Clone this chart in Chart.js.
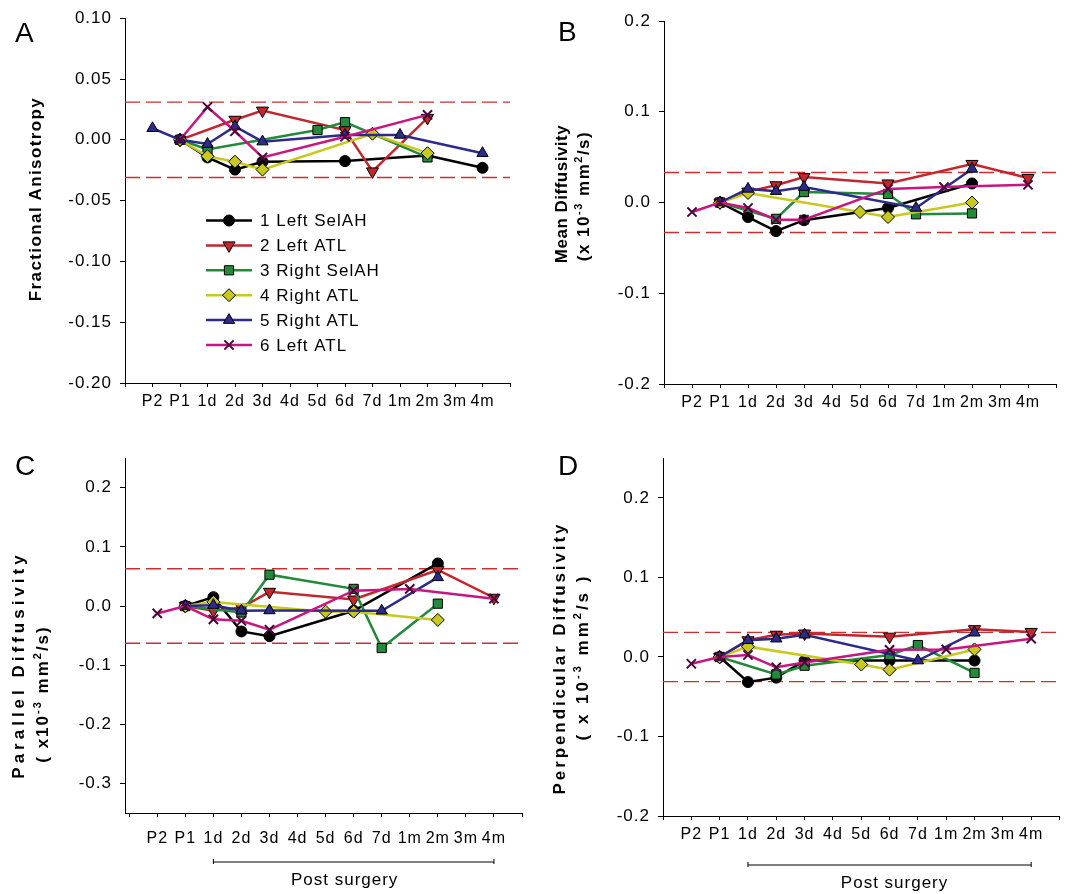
<!DOCTYPE html>
<html lang="en">
<head>
<meta charset="utf-8">
<title>DTI post surgery</title>
<script src="https://cdn.jsdelivr.net/npm/chart.js@4.4.1/dist/chart.umd.min.js"></script>
<style>
  html, body { margin: 0; padding: 0; background: #fff; overflow: hidden; }
  body { position: relative; width: 1065px; height: 894px; font-family: 'Liberation Sans', Arial, sans-serif; color: #000; }
  canvas { position: absolute; }
  .letra { position: absolute; font-size: 28px; line-height: 28px; }
  .titulo { position: absolute; font-weight: bold; font-size: 17px; line-height: 20px; white-space: nowrap; transform: translate(-50%, -50%) rotate(-90deg); }
  .titulo sup { font-size: 11px; line-height: 0; vertical-align: 7px; }
</style>
</head>
<body>
<canvas id="chartA" width="540" height="440" style="left:0;top:0"></canvas>
<canvas id="chartB" width="525" height="440" style="left:540px;top:0"></canvas>
<canvas id="chartC" width="540" height="454" style="left:0;top:440px"></canvas>
<canvas id="chartD" width="528" height="454" style="left:540px;top:440px"></canvas>

<div class="letra" style="left:15px;top:19px">A</div>
<div class="letra" style="left:558px;top:18px">B</div>
<div class="letra" style="left:15px;top:452px">C</div>
<div class="letra" style="left:558px;top:452px">D</div>

<div class="titulo" style="left:36px;top:199px;letter-spacing:1.4px">Fractional Anisotropy</div>
<div class="titulo" style="left:562px;top:194px;letter-spacing:0.5px">Mean Diffusivity</div>
<div class="titulo" style="left:584px;top:196px;letter-spacing:1.5px">(x 10<sup>-3</sup> mm<sup>2</sup>/s)</div>
<div class="titulo" style="left:19px;top:665px;letter-spacing:4px">Parallel Diffusivity</div>
<div class="titulo" style="left:43px;top:694px;letter-spacing:2px">( x10<sup>-3</sup> mm<sup>2</sup>/s)</div>
<div class="titulo" style="left:560px;top:658px;letter-spacing:2.9px">Perpendicular Diffusivity</div>
<div class="titulo" style="left:583px;top:657px;letter-spacing:3px">( x 10<sup>-3</sup> mm<sup>2</sup>/s )</div>

<script>
// Configuración global para que coincida con la figura original
Chart.defaults.font.family = "'Liberation Sans', Arial, sans-serif";
Chart.defaults.color = '#000';

// 1. Datos: categorías del eje X y nombres de las series
const categorias = ['P2', 'P1', '1d', '2d', '3d', '4d', '5d', '6d', '7d', '1m', '2m', '3m', '4m'];
const nombresSeries = ['1 Left SelAH', '2 Left ATL', '3 Right SelAH', '4 Right ATL', '5 Right ATL', '6 Left ATL'];

// A - Fractional Anisotropy
const fa1 = [null, 0, -0.0145, -0.0245, -0.018, null, null, -0.0175, null, null, -0.013, null, -0.023];
const fa2 = [null, 0, null, 0.0165, 0.024, null, null, 0.008, -0.026, null, 0.018, null, null];
const fa3 = [null, 0, -0.008, null, null, null, 0.008, 0.0145, null, null, -0.0145, null, null];
const fa4 = [null, 0, -0.0135, -0.018, -0.0245, null, null, null, 0.005, null, -0.011, null, null];
const fa5 = [0.0095, 0, -0.0035, 0.011, -0.0015, null, null, 0.004, null, 0.004, null, null, -0.011];
const fa6 = [null, 0, 0.027, 0.007, -0.0145, null, null, 0.0025, null, null, 0.0205, null, null];

// B - Mean Diffusivity
const md1 = [null, 0, -0.016, -0.0315, -0.0195, null, null, -0.006, null, null, 0.021, null, null];
const md2 = [null, 0, 0.012, 0.019, 0.028, null, null, 0.021, null, null, 0.0425, null, 0.027];
const md3 = [null, 0, null, -0.018, 0.0115, null, null, 0.0095, -0.013, null, -0.012, null, null];
const md4 = [null, 0, 0.0105, null, null, null, -0.0105, -0.016, null, null, 0.0, null, null];
const md5 = [null, 0, 0.015, 0.0125, 0.017, null, null, null, -0.006, null, 0.037, null, null];
const md6 = [-0.0105, 0, -0.006, -0.019, -0.019, null, null, 0.015, null, 0.017, null, null, 0.0195];

// C - Parallel Diffusivity
const ad1 = [null, 0, 0.015, -0.043, -0.051, null, null, -0.008, null, null, 0.072, null, null];
const ad2 = [null, 0, -0.008, -0.0025, 0.024, null, null, 0.011, null, null, 0.061, null, 0.014];
const ad3 = [null, 0, null, -0.011, 0.053, null, null, 0.029, -0.071, null, 0.004, null, null];
const ad4 = [null, 0, 0.007, null, null, null, -0.0095, -0.0095, null, null, -0.0235, null, null];
const ad5 = [null, 0, 0.0015, -0.008, -0.0075, null, null, null, -0.008, null, 0.0485, null, null];
const ad6 = [-0.0125, 0, -0.0225, -0.025, -0.040, null, null, 0.026, null, 0.029, null, null, 0.0125];

// D - Perpendicular Diffusivity
const rd1 = [null, 0, -0.0315, -0.026, -0.0045, null, null, -0.0045, null, null, -0.0045, null, null];
const rd2 = [null, 0, 0.021, 0.028, 0.0295, null, null, 0.0255, null, null, 0.035, null, 0.0315];
const rd3 = [null, 0, null, -0.022, -0.011, null, null, 0.0025, 0.015, null, -0.020, null, null];
const rd4 = [null, 0, 0.013, null, null, null, -0.0095, -0.016, null, null, 0.0095, null, null];
const rd5 = [null, 0, 0.021, 0.023, 0.028, null, null, null, -0.0045, null, 0.0305, null, null];
const rd6 = [-0.0085, 0, 0.0025, -0.013, -0.007, null, null, 0.009, null, 0.0095, null, null, 0.023];

// Límites (líneas discontinuas) y marcas de los ejes Y
const limiteFA = 0.031, limiteMD = 0.033, limiteAD = 0.063, limiteRD = 0.031;
const ticksFA = [-0.20, -0.15, -0.10, -0.05, 0.00, 0.05, 0.10];
const ticksMD = [-0.2, -0.1, 0.0, 0.1, 0.2];
const ticksAD = [-0.3, -0.2, -0.1, 0.0, 0.1, 0.2];
const ticksRD = [-0.2, -0.1, 0.0, 0.1, 0.2];

// 2. Estilos de cada serie
const coloresSeries = ['#000000', '#c1272d', '#23893b', '#c9c81f', '#2c2a8a', '#c8157f'];
const estilosPunto = ['circle', 'triangle', 'rect', 'rectRot', 'triangle', 'crossRot'];
const rotacionPunto = [0, 180, 0, 0, 0, 0];
const radioPunto = [5.5, 7, 6.5, 6.5, 6.5, 6.5];
const bordePunto = ['#000', '#000', '#000', '#000', '#000', '#4a0636'];
const fuente = "'Liberation Sans', Arial, sans-serif";

// Espaciado entre letras, como en la figura escaneada
const espaciado = {
    id: 'espaciado',
    beforeDraw(chart) { chart.ctx.letterSpacing = '1px'; }
};

// Leyenda dentro del área del gráfico (panel A)
const leyendaInterna = {
    id: 'leyendaInterna',
    afterDraw(chart, args, opts) {
        if (!opts.display) return;
        const ctx = chart.ctx;
        ctx.save();
        ctx.letterSpacing = '1px';
        ctx.font = '17px ' + fuente;
        ctx.textBaseline = 'middle';
        chart.data.datasets.filter(ds => !ds.esLimite).forEach((ds, i) => {
            const y = opts.top + i * opts.paso;
            ctx.strokeStyle = ds.borderColor;
            ctx.lineWidth = ds.borderWidth;
            ctx.beginPath();
            ctx.moveTo(opts.left, y);
            ctx.lineTo(opts.left + opts.largo, y);
            ctx.stroke();
            ctx.fillStyle = ds.pointBackgroundColor;
            ctx.strokeStyle = ds.pointBorderColor;
            ctx.lineWidth = ds.pointBorderWidth;
            Chart.helpers.drawPoint(ctx, {
                pointStyle: ds.pointStyle,
                rotation: ds.pointRotation,
                radius: ds.pointRadius,
                borderWidth: ds.pointBorderWidth
            }, opts.left + opts.largo / 2, y);
            ctx.fillStyle = '#000';
            ctx.fillText(ds.label, opts.left + opts.largo + 8, y + 1);
        });
        ctx.restore();
    }
};

// Corchete "Post surgery" bajo el eje X (paneles C y D)
const corchete = {
    id: 'corchete',
    afterDraw(chart, args, opts) {
        if (!opts.display) return;
        const ctx = chart.ctx;
        const x1 = chart.scales.x.getPixelForValue(opts.desde);
        const x2 = chart.scales.x.getPixelForValue(opts.hasta);
        ctx.save();
        ctx.strokeStyle = '#000';
        ctx.lineWidth = 1;
        ctx.beginPath();
        ctx.moveTo(x1, opts.y - 3); ctx.lineTo(x1, opts.y + 2);
        ctx.moveTo(x1, opts.y); ctx.lineTo(x2, opts.y);
        ctx.moveTo(x2, opts.y - 3); ctx.lineTo(x2, opts.y + 2);
        ctx.stroke();
        ctx.letterSpacing = '1px';
        ctx.font = '17px ' + fuente;
        ctx.fillStyle = '#000';
        ctx.textAlign = 'center';
        ctx.textBaseline = 'middle';
        ctx.fillText(opts.texto, (x1 + x2) / 2 + opts.desplazamiento, opts.y + 18);
        ctx.restore();
    }
};

function datasetsSeries(series) {
    return series.map((valores, k) => ({
        label: nombresSeries[k],
        data: valores.map((v, i) => (v === null ? null : { x: i + 1, y: v })).filter(p => p !== null),
        borderColor: coloresSeries[k],
        backgroundColor: coloresSeries[k],
        borderWidth: 2.5,
        pointStyle: estilosPunto[k],
        pointRotation: rotacionPunto[k],
        pointRadius: radioPunto[k],
        pointBackgroundColor: coloresSeries[k],
        pointBorderColor: bordePunto[k],
        pointBorderWidth: k === 5 ? 2 : 1,
        order: series.length - k,
        tension: 0
    }));
}

function datasetsLimite(limite, xMin, xMax) {
    return [limite, -limite].map(y => ({
        esLimite: true,
        label: 'límite',
        data: [{ x: xMin, y: y }, { x: xMax, y: y }],
        borderColor: '#cc2f2f',
        borderWidth: 1.4,
        borderDash: [15, 6],
        pointRadius: 0,
        order: 20
    }));
}

// 3. Crear cada panel con sus escalas
function crearPanel(id, cfg) {
    const ctx = document.getElementById(id).getContext('2d');
    return new Chart(ctx, {
        type: 'line',
        data: {
            datasets: [...datasetsLimite(cfg.limite, cfg.xMin, cfg.xMax), ...datasetsSeries(cfg.series)]
        },
        options: {
            responsive: false,
            animation: false,
            events: [],
            spanGaps: true,
            layout: { padding: cfg.padding },
            plugins: {
                legend: { display: false },
                tooltip: { enabled: false },
                leyendaInterna: cfg.leyenda || { display: false },
                corchete: cfg.corchete || { display: false }
            },
            scales: {
                x: {
                    type: 'linear',
                    min: cfg.xMin,
                    max: cfg.xMax,
                    afterBuildTicks: escala => {
                        const t = [];
                        for (let v = Math.ceil(cfg.xMin); v <= Math.floor(cfg.xMax + 1e-9); v++) t.push({ value: v });
                        escala.ticks = t;
                    },
                    afterFit: escala => { escala.height = cfg.altoX; },
                    ticks: {
                        autoSkip: false, maxRotation: 0, minRotation: 0,
                        padding: cfg.padX,
                        font: { size: 16 },
                        callback: v => categorias[v - 1] || ''
                    },
                    grid: { drawOnChartArea: false, drawTicks: true, tickLength: 4, color: '#000' },
                    border: { color: '#000', width: 1 }
                },
                y: {
                    type: 'linear',
                    min: cfg.yMin,
                    max: cfg.yMax,
                    afterBuildTicks: escala => { escala.ticks = cfg.yTicks.map(v => ({ value: v })); },
                    afterFit: escala => { escala.width = cfg.anchoY; },
                    ticks: {
                        padding: 8,
                        font: { size: 17 },
                        callback: v => v.toFixed(cfg.decimales)
                    },
                    grid: { drawOnChartArea: false, drawTicks: true, tickLength: 5, color: '#000' },
                    border: { color: '#000', width: 1 }
                }
            }
        },
        plugins: [espaciado, leyendaInterna, corchete]
    });
}

crearPanel('chartA', {
    series: [fa1, fa2, fa3, fa4, fa5, fa6], limite: limiteFA,
    yMin: -0.20, yMax: 0.10, yTicks: ticksFA, decimales: 2,
    xMin: 0, xMax: 14, anchoY: 125, altoX: 57, padX: 5,
    padding: { left: 0, top: 16, right: 30, bottom: 0 },
    leyenda: { display: true, left: 206, top: 220.5, paso: 24.9, largo: 46 }
});

crearPanel('chartB', {
    series: [md1, md2, md3, md4, md5, md6], limite: limiteMD,
    yMin: -0.2, yMax: 0.2, yTicks: ticksMD, decimales: 1,
    xMin: 0, xMax: 14, anchoY: 124, altoX: 56, padX: 5,
    padding: { left: 0, top: 21, right: 9, bottom: 0 }
});

crearPanel('chartC', {
    series: [ad1, ad2, ad3, ad4, ad5, ad6], limite: limiteAD,
    yMin: -0.35, yMax: 0.25, yTicks: ticksAD, decimales: 1,
    xMin: -0.15, xMax: 14, anchoY: 125, altoX: 81, padX: 12,
    padding: { left: 0, top: 13, right: 18, bottom: 0 },
    corchete: { display: true, desde: 3, hasta: 13, y: 422, texto: 'Post surgery', desplazamiento: -9 }
});

crearPanel('chartD', {
    series: [rd1, rd2, rd3, rd4, rd5, rd6], limite: limiteRD,
    yMin: -0.2, yMax: 0.25, yTicks: ticksRD, decimales: 1,
    xMin: 0, xMax: 14, anchoY: 123, altoX: 78, padX: 5,
    padding: { left: 0, top: 13, right: 0, bottom: 0 },
    corchete: { display: true, desde: 3, hasta: 13, y: 425, texto: 'Post surgery', desplazamiento: 5 }
});
</script>
</body>
</html>
